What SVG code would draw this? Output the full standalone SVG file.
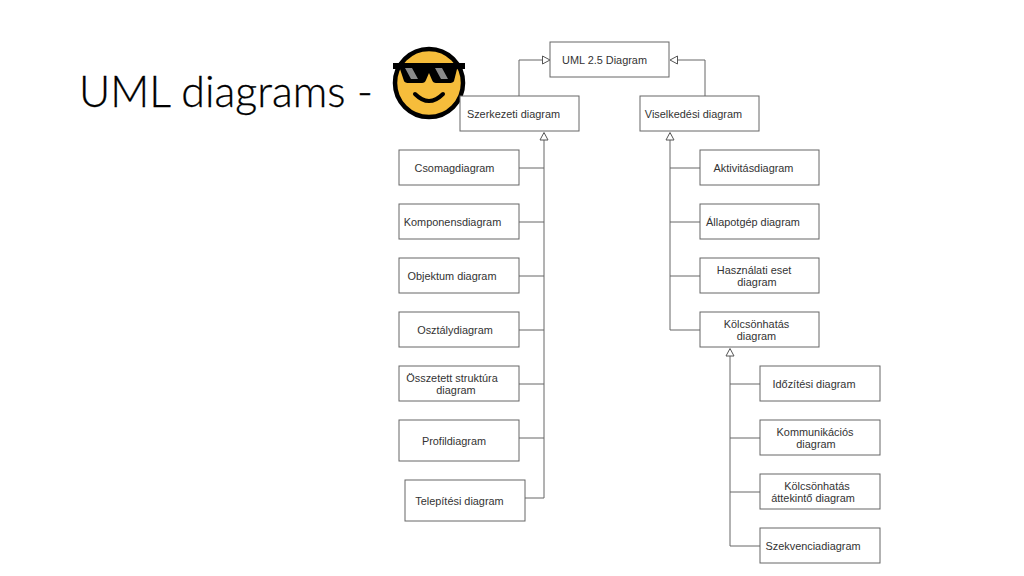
<svg xmlns="http://www.w3.org/2000/svg" width="1024" height="576" viewBox="0 0 1024 576">
<style>
.b{fill:#fff;stroke:#666;stroke-width:1}
.t{font-family:"Liberation Sans",Arial,sans-serif;font-size:10.9px;fill:#333;text-anchor:middle}
.c{fill:none;stroke:#666;stroke-width:1}
.h{fill:#fff;stroke:#555;stroke-width:1}
</style>
<rect width="1024" height="576" fill="#fff"/>
<text id="title" x="79" y="107" font-family="Lato,'Open Sans',sans-serif" font-weight="300" font-size="44" fill="#000" stroke="#000" stroke-width="0.3" textLength="294" lengthAdjust="spacingAndGlyphs">UML diagrams -</text>
<g id="connectors">
<path class="c" d="M519 96V60H543M705 96V60H677M544 140V498H525M519 168H544M519 222H544M519 276H544M519 330H544M519 384H544M519 438H544M670 140V330H700M670 168H700M670 222H700M670 276H700M730 356V546H760M730 384H760M730 438H760M730 492H760"/>
<path class="h" d="M542.500 56L550 60L542.500 64Z"/>
<path class="h" d="M677.500 56L670 60L677.500 64Z"/>
<path class="h" d="M544 132.500L540 140H548Z"/>
<path class="h" d="M670 132.500L666 140H674Z"/>
<path class="h" d="M730 348.500L726 356H734Z"/>
</g>
<g id="emoji">
<circle cx="429" cy="83" r="34" fill="#f6bd3b" stroke="#000" stroke-width="4.500"/>
<path d="M393 63H465V69H457L454 81Q453 83 449 83H436Q433 83 432 80L429 73L426 80Q425 83 422 83H409Q405 83 404 81L400 69H393Z" fill="#000"/>
<path d="M405 68H412L418 79H411Z M435 68H442L448 79H441Z" fill="#8a8a8a"/>
<path d="M415 94Q429 108 443 94" fill="none" stroke="#000" stroke-width="4" stroke-linecap="round"/>
</g>
<g id="uml"><rect class="b" x="550" y="42" width="119" height="35"/><text class="t" x="604.500" y="64">UML 2.5 Diagram</text></g>
<g id="szerkezeti"><rect class="b" x="460" y="96" width="119" height="35"/><text class="t" x="513.500" y="118">Szerkezeti diagram</text></g>
<g id="viselkedesi"><rect class="b" x="640" y="96" width="119" height="35"/><text class="t" x="693.500" y="118">Viselkedési diagram</text></g>
<g id="csomag"><rect class="b" x="399" y="150" width="120" height="35"/><text class="t" x="454.500" y="172">Csomagdiagram</text></g>
<g id="komponens"><rect class="b" x="399" y="204" width="120" height="35"/><text class="t" x="452.500" y="226">Komponensdiagram</text></g>
<g id="objektum"><rect class="b" x="399" y="258" width="120" height="35"/><text class="t" x="452" y="280">Objektum diagram</text></g>
<g id="osztaly"><rect class="b" x="399" y="312" width="120" height="35"/><text class="t" x="455" y="334">Osztálydiagram</text></g>
<g id="osszetett"><rect class="b" x="399" y="366" width="120" height="35"/><text class="t" x="452" y="382">Összetett struktúra</text><text class="t" x="456" y="394">diagram</text></g>
<g id="profil"><rect class="b" x="399" y="420" width="120" height="41"/><text class="t" x="454" y="445">Profildiagram</text></g>
<g id="telepitesi"><rect class="b" x="405" y="480" width="120" height="41"/><text class="t" x="459.500" y="505">Telepítési diagram</text></g>
<g id="aktivitas"><rect class="b" x="700" y="150" width="119" height="35"/><text class="t" x="753.500" y="172">Aktivitásdiagram</text></g>
<g id="allapotgep"><rect class="b" x="700" y="204" width="119" height="35"/><text class="t" x="753" y="226">Állapotgép diagram</text></g>
<g id="hasznalati"><rect class="b" x="700" y="258" width="119" height="35"/><text class="t" x="754" y="274">Használati eset</text><text class="t" x="757" y="286">diagram</text></g>
<g id="kolcsonhatas"><rect class="b" x="700" y="312" width="119" height="35"/><text class="t" x="756.500" y="328">Kölcsönhatás</text><text class="t" x="756.500" y="340">diagram</text></g>
<g id="idozitesi"><rect class="b" x="760" y="366" width="120" height="35"/><text class="t" x="814" y="388">Időzítési diagram</text></g>
<g id="kommunikacios"><rect class="b" x="760" y="420" width="120" height="35"/><text class="t" x="815" y="436">Kommunikációs</text><text class="t" x="816" y="448">diagram</text></g>
<g id="attekinto"><rect class="b" x="760" y="474" width="120" height="35"/><text class="t" x="817" y="490">Kölcsönhatás</text><text class="t" x="813" y="502">áttekintő diagram</text></g>
<g id="szekvencia"><rect class="b" x="760" y="528" width="120" height="35"/><text class="t" x="813" y="550">Szekvenciadiagram</text></g>
</svg>
